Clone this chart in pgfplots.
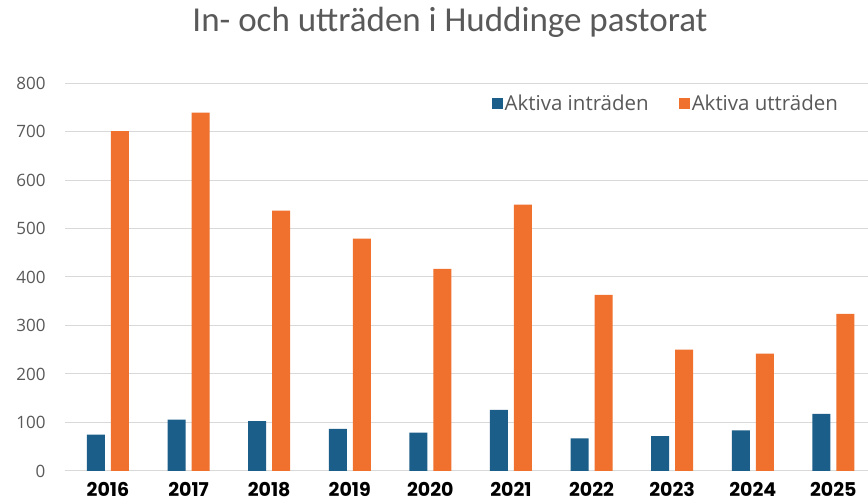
\documentclass[border=0pt]{standalone}
\usepackage{fontspec}
\usepackage{pgfplots}
\pgfplotsset{compat=1.18}
\setmainfont{Carlito}
\newfontfamily\opensans{Open Sans}
\newfontfamily\popp{Poppins}
\definecolor{barblue}{RGB}{27,94,138}
\definecolor{barorange}{RGB}{240,112,46}
\definecolor{txtgray}{RGB}{89,89,89}
\definecolor{gridgray}{RGB}{217,217,217}
\begin{document}
\begin{tikzpicture}
\path[use as bounding box, clip] (0,0) rectangle (868pt,502pt);
\fill[white] (0,0) rectangle (868pt,502pt);
\node[anchor=base, text=txtgray, font=\fontsize{35}{35}\selectfont] at (450pt,470pt) {In- och utträden i Huddinge pastorat};
\begin{axis}[
  at={(65pt,31pt)}, anchor=south west,
  scale only axis, width=803pt, height=388pt,
  xmin=-0.533, xmax=9.43, ymin=0, ymax=800,
  ybar, bar width=18pt,
  xtick={0,...,9},
  xticklabels={2016,2017,2018,2019,2020,2021,2022,2023,2024,2025},
  ytick={0,100,...,800},
  /pgf/number format/assume math mode=true,
  axis x line=bottom, axis y line=left,
  x axis line style={draw=gridgray, line width=1pt, -},
  y axis line style={draw=none},
  major tick length=0pt,
  ymajorgrids, major grid style={draw=gridgray, line width=1pt},
  yticklabel style={font=\opensans\fontsize{17}{17}\selectfont, text=txtgray, anchor=east, xshift=-16pt},
  xticklabel style={font=\popp\bfseries\fontsize{19}{19}\selectfont, text=black, anchor=base, inner sep=0pt, text depth=0pt, yshift=-26pt},
  legend columns=2,
  legend style={at={(0.531,0.946)}, anchor=west, draw=none, fill=none, inner sep=0pt,
    font=\opensans\fontsize{20.5}{20.5}\selectfont, text=txtgray,
    /tikz/every even column/.append style={column sep=28pt}},
  legend image code/.code={\fill[#1] (0pt,-5pt) rectangle (11pt,6pt);},
]
\addplot[fill=barblue, draw=none, bar shift=-12pt] coordinates {
 (0,75) (1,106) (2,103) (3,87) (4,79) (5,126) (6,67) (7,72) (8,84) (9,118)};
\addplot[fill=barorange, draw=none, bar shift=12pt] coordinates {
 (0,701) (1,739) (2,537) (3,479) (4,417) (5,549) (6,363) (7,250) (8,242) (9,324)};
\legend{Aktiva inträden, Aktiva utträden}
\end{axis}
\end{tikzpicture}
\end{document}
